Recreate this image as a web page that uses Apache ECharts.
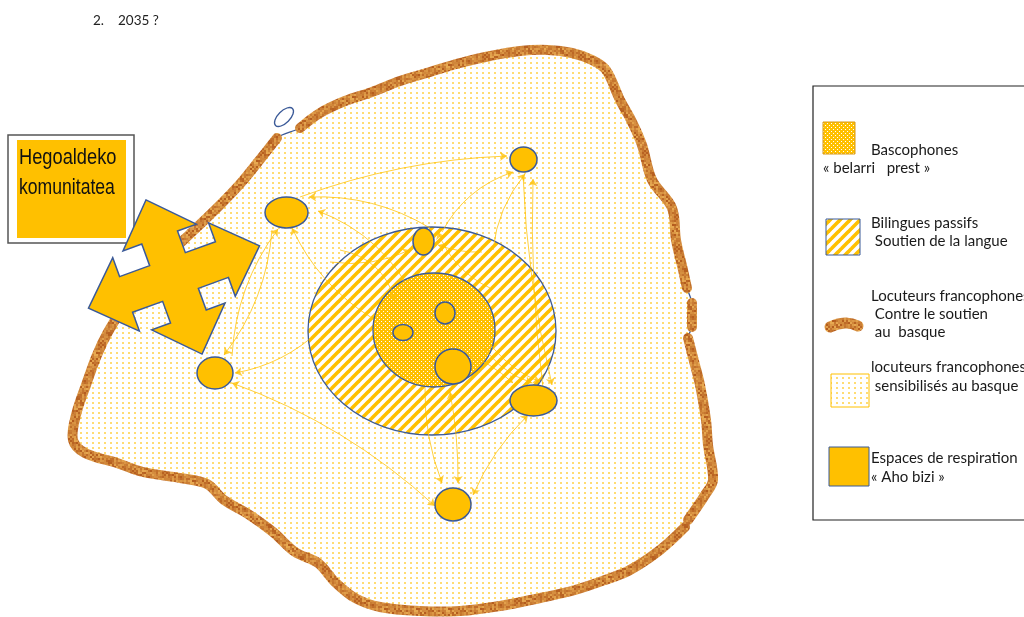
<!DOCTYPE html>
<html>
<head>
<meta charset="utf-8">
<title>2035 ?</title>
<script src="https://cdn.jsdelivr.net/npm/echarts@6/dist/echarts.min.js"></script>
<style>
  html, body { margin: 0; padding: 0; background: #fff; }
  #main { width: 1024px; height: 617px; }
</style>
</head>
<body>
<div id="main"></div>
<script>
// --- data (drawing units = page pixels, y downwards) ---
var titleParts = ['2.', '2035 ?'];
var communityLines = ['Hegoaldeko', 'komunitatea'];

// brown border pieces, clockwise, starting right of the little blue loop
var borderA = [[300,128],[320,113],[345,101],[372,92],[400,81],[430,72],[460,63],[490,56],[520,51],[548,50],[572,53],[592,60],[606,70],[620,100],[632,122],[642,145],[652,180],[672,208],[676,240],[683,270],[687,288]];
var borderB = [[692,303],[692,327]];
var borderC = [[688,338],[695,365],[700,385],[706,420],[708,445],[713,480],[705,495],[688,520]];
var borderD = [[685,527],[660,550],[630,570],[605,580],[575,590],[540,598],[500,606],[460,611],[420,611],[380,607],[355,598],[335,582],[318,563],[295,552],[273,532],[248,514],[224,500],[207,484],[180,478],[143,472],[117,463],[85,453],[73,440],[76,415],[86,385],[97,355],[108,332],[125,305],[145,280],[168,255],[192,232],[218,207],[240,184],[258,162],[277,138]];
var loopPoint = [284, 117];

// bilingual ring and bascophone core: [cx, cy, rx, ry]
var zones = [[432,331,124,104],[434,330,61,57]];

// breathing spaces "Aho bizi": [cx, cy, rx, ry]
var spaces = [
  [523.5,159.5,13.5,12.5],[286.5,212.5,21.5,15.5],[423.5,241.5,10.5,13.5],
  [215,373,18,16],[533.5,400.5,23.5,15.5],[453,504.5,18,16.5],
  [403,332.5,10,8],[445,313,10,11],[453,366.5,18,17.5]
];

// one-way flows: [x1, y1, x2, y2, curveness]
var flows = [
  [300,197,507,156,0.08],
  [442,232,513,172,0.2],
  [493,250,525,174,0.15],
  [543,388,533,179,0.04],
  [523,175,552,385,-0.05],
  [430,228,309,197,-0.15],
  [415,300,318,211,-0.2],
  [372,318,292,228,0.15],
  [272,230,224,355,0.15],
  [232,356,278,229,0.15],
  [320,330,235,373,0.15],
  [425,387,442,483,-0.1],
  [462,352,513,383,0.1],
  [478,338,532,383,-0.2],
  [330,262,410,250,-0.15],
  [482,252,438,245,0.1],
  [490,288,438,232,0.2],
  [340,250,395,300,0.3],
  [470,300,540,382,-0.25]
];
// two-way flows
var flowsBoth = [
  [232,383,435,506,0.1],
  [450,392,458,483,0.05],
  [473,495,528,415,0.1]
];

var legendLines = [
  ['Bascophones', '« belarri   prest »'],
  ['Bilingues passifs', ' Soutien de la langue'],
  ['Locuteurs francophones', ' Contre le soutien', ' au  basque'],
  ['locuteurs francophones', ' sensibilisés au basque'],
  ['Espaces de respiration', '« Aho bizi »']
];

// --- fills ---
var YELLOW = '#FFC000', BLUE = '#3b5a98';
function makeCanvas(w, h, draw) {
  var c = document.createElement('canvas');
  c.width = w; c.height = h;
  draw(c.getContext('2d'));
  return c;
}
var dotsLight = { image: makeCanvas(6, 5, function (g) {
  g.fillStyle = '#fff'; g.fillRect(0, 0, 6, 5);
  g.fillStyle = 'rgba(255,192,0,0.55)'; g.fillRect(2, 2, 2, 2);
}), repeat: 'repeat' };
var dotsDense = { image: makeCanvas(4, 4, function (g) {
  g.fillStyle = YELLOW; g.fillRect(0, 0, 4, 4);
  g.fillStyle = '#fff'; g.fillRect(1, 1, 1, 1); g.fillRect(3, 3, 1, 1);
}), repeat: 'repeat' };
var hatch = { image: makeCanvas(10, 10, function (g) {
  g.fillStyle = '#fff'; g.fillRect(0, 0, 10, 10);
  g.strokeStyle = YELLOW; g.lineWidth = 3.6;
  for (var k = -1; k <= 1; k++) {
    g.beginPath(); g.moveTo(k * 10 - 1, 11); g.lineTo(k * 10 + 11, -1); g.stroke();
  }
}), repeat: 'repeat' };
// bark-like texture for the opposed-francophone border
var bark = { image: makeCanvas(32, 32, function (g) {
  for (var i = 0; i < 32; i += 2) for (var j = 0; j < 32; j += 2) {
    var n = Math.abs(Math.sin(i * 12.9898 + j * 78.233) * 43758.5453) % 1;
    g.fillStyle = 'rgb(' + Math.round(180 + 52 * n) + ',' + Math.round(92 + 78 * n) + ',' + Math.round(30 + 52 * n) + ')';
    g.fillRect(i, j, 2, 2);
  }
}), repeat: 'repeat' };
var zoneFills = [hatch, dotsDense];

// --- four-way arrow next to the box ---
function crossPoints(cx, cy, deg) {
  var ex = 91, ey = 82, s = 19, h = 39, hl = 40;
  var pts = [[0,-ey],[h,-ey+hl],[s,-ey+hl],[s,-s],[ex-hl,-s],[ex-hl,-h],[ex,0],[ex-hl,h],[ex-hl,s],[s,s],[s,ey-hl],[h,ey-hl],
             [0,ey],[-h,ey-hl],[-s,ey-hl],[-s,s],[-ex+hl,s],[-ex+hl,h],[-ex,0],[-ex+hl,-h],[-ex+hl,-s],[-s,-s],[-s,-ey+hl],[-h,-ey+hl]];
  var t = deg * Math.PI / 180, c = Math.cos(t), sn = Math.sin(t);
  return pts.map(function (p) { return [cx + p[0] * c - p[1] * sn, cy + p[0] * sn + p[1] * c]; });
}

var chart = echarts.init(document.getElementById('main'));

function toPx(api, list) {
  return list.map(function (p) { return api.coord(p); });
}

var FONT = '15px Lato, "Open Sans", sans-serif';
var legendGraphics = [
  { type: 'rect', shape: { x: 813, y: 86, width: 230, height: 434 }, style: { fill: 'none', stroke: '#222', lineWidth: 1.2 } },
  { type: 'rect', shape: { x: 823, y: 122, width: 32, height: 32 }, style: { fill: dotsDense, stroke: '#d79a1a', lineWidth: 1 } },
  { type: 'rect', shape: { x: 826, y: 219, width: 34, height: 36 }, style: { fill: hatch, stroke: BLUE, lineWidth: 1 } },
  { type: 'polyline', shape: { points: [[830,327],[845,323],[858,326]], smooth: 0.5 }, style: { stroke: bark, lineWidth: 11, lineCap: 'round', fill: null } },
  { type: 'rect', shape: { x: 831, y: 374, width: 38, height: 33 }, style: { fill: dotsLight, stroke: YELLOW, lineWidth: 1 } },
  { type: 'rect', shape: { x: 829, y: 447, width: 40, height: 39 }, style: { fill: YELLOW, stroke: BLUE, lineWidth: 1 } }
];
var legendTextPos = [
  [[871,150],[823,168]],
  [[871,223],[871,241]],
  [[871,296],[871,314],[871,332]],
  [[871,367],[871,386]],
  [[871,458],[871,477]]
];
legendLines.forEach(function (lines, i) {
  lines.forEach(function (txt, j) {
    legendGraphics.push({
      type: 'text', x: legendTextPos[i][j][0], y: legendTextPos[i][j][1],
      style: { text: txt, font: FONT, fill: '#1a1a1a', textVerticalAlign: 'middle' }
    });
  });
});

var HAND = '22px "Liberation Sans", Arial, sans-serif';
var option = {
  animation: false,
  grid: { left: 0, right: 0, top: 0, bottom: 0 },
  xAxis: { type: 'value', min: 0, max: 1024, show: false },
  yAxis: { type: 'value', min: 0, max: 617, inverse: true, show: false },
  graphic: [
    { type: 'text', x: 93, y: 21, style: { text: titleParts[0], font: '13.5px Lato, sans-serif', fill: '#222', textVerticalAlign: 'middle' } },
    { type: 'text', x: 118, y: 21, style: { text: titleParts[1], font: '13.5px Lato, sans-serif', fill: '#222', textVerticalAlign: 'middle' } },
    { type: 'rect', z: 20, shape: { x: 8, y: 135, width: 126, height: 108 }, style: { fill: '#fff', stroke: '#555', lineWidth: 1.5 } },
    { type: 'rect', z: 21, shape: { x: 17, y: 140, width: 109, height: 98 }, style: { fill: YELLOW } },
    { type: 'text', z: 22, x: 19, y: 158, scaleX: 0.83, style: { text: communityLines[0], font: HAND, fill: '#111', textVerticalAlign: 'middle' } },
    { type: 'text', z: 22, x: 19, y: 188, scaleX: 0.8, style: { text: communityLines[1], font: HAND, fill: '#111', textVerticalAlign: 'middle' } },
    { type: 'polygon', z: 23, shape: { points: crossPoints(174, 277, -20) }, style: { fill: YELLOW, stroke: BLUE, lineWidth: 1.5 } }
  ].concat(legendGraphics),
  series: [
    {
      // territory: sensitised francophones, border of opposed francophones
      type: 'custom', name: 'territoire', silent: true, clip: false, z: 1,
      data: [0],
      renderItem: function (params, api) {
        var all = borderA.concat(borderB, borderC, borderD);
        var loop = api.coord(loopPoint);
        var kids = [
          { type: 'polygon', shape: { points: toPx(api, all), smooth: 0.35 }, style: { fill: dotsLight, stroke: BLUE, lineWidth: 1.3 } },
          { type: 'ellipse', x: loop[0], y: loop[1], rotation: Math.PI / 4, shape: { cx: 0, cy: 0, rx: 12, ry: 6 }, style: { fill: 'none', stroke: BLUE, lineWidth: 1.3 } }
        ];
        [borderA, borderB, borderC, borderD].forEach(function (seg) {
          kids.push({ type: 'polyline', shape: { points: toPx(api, seg), smooth: 0.35 }, style: { fill: null, stroke: bark, lineWidth: 10, lineCap: 'round', lineJoin: 'round' } });
        });
        return { type: 'group', children: kids };
      }
    },
    {
      type: 'custom', name: 'zones', silent: true, clip: false, z: 2,
      data: zones,
      renderItem: function (params, api) {
        var c = api.coord([api.value(0), api.value(1)]);
        var sz = api.size([api.value(2), api.value(3)]);
        return { type: 'ellipse', shape: { cx: c[0], cy: c[1], rx: sz[0], ry: sz[1] }, style: { fill: zoneFills[params.dataIndex], stroke: BLUE, lineWidth: 1.3 } };
      }
    },
    {
      type: 'lines', name: 'flux', coordinateSystem: 'cartesian2d', silent: true, z: 3,
      symbol: ['none', 'arrow'], symbolSize: 7,
      lineStyle: { color: YELLOW, width: 1, opacity: 0.75 },
      data: flows.map(function (f) { return { coords: [[f[0], f[1]], [f[2], f[3]]], lineStyle: { curveness: f[4] } }; })
    },
    {
      type: 'lines', name: 'flux2', coordinateSystem: 'cartesian2d', silent: true, z: 3,
      symbol: ['arrow', 'arrow'], symbolSize: 7,
      lineStyle: { color: YELLOW, width: 1, opacity: 0.75 },
      data: flowsBoth.map(function (f) { return { coords: [[f[0], f[1]], [f[2], f[3]]], lineStyle: { curveness: f[4] } }; })
    },
    {
      type: 'custom', name: 'aho bizi', silent: true, clip: false, z: 4,
      data: spaces,
      renderItem: function (params, api) {
        var c = api.coord([api.value(0), api.value(1)]);
        var sz = api.size([api.value(2), api.value(3)]);
        return { type: 'ellipse', shape: { cx: c[0], cy: c[1], rx: sz[0], ry: sz[1] }, style: { fill: YELLOW, stroke: BLUE, lineWidth: 1.5 } };
      }
    }
  ]
};
chart.setOption(option);
</script>
</body>
</html>
